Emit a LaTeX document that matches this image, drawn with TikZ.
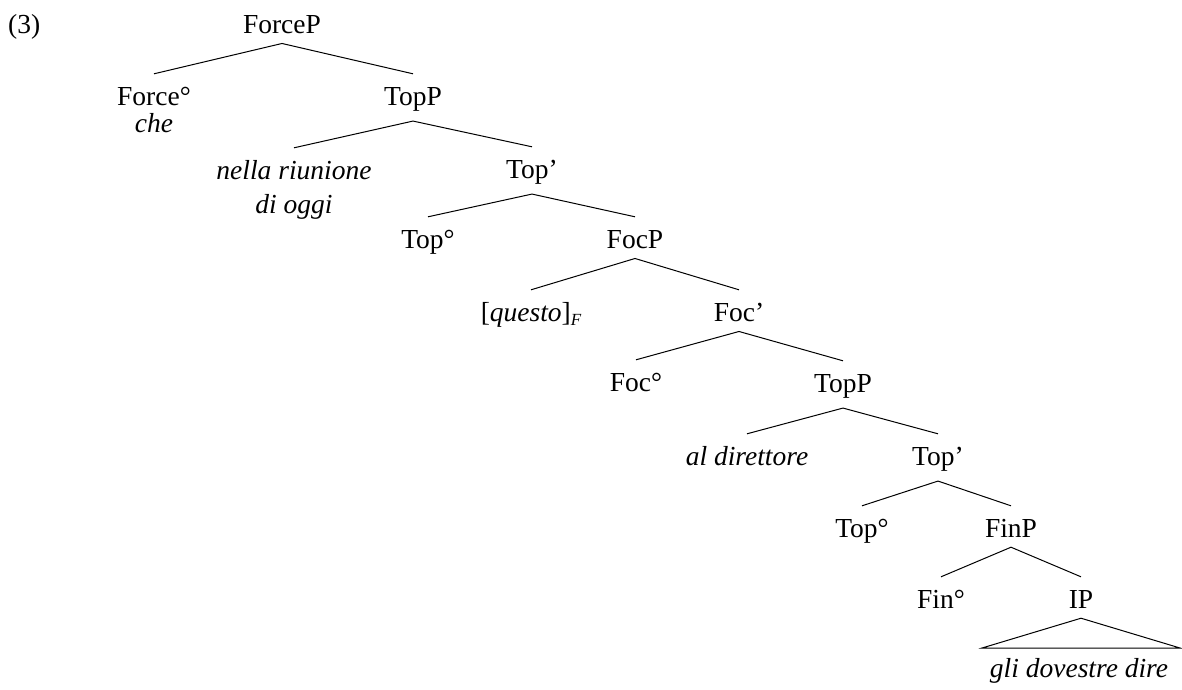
\documentclass[tikz,border=0pt]{standalone}
\usepackage{fontspec}
\setmainfont{Liberation Serif}
\begin{document}
\begin{tikzpicture}[x=1pt,y=-1pt,
  tn/.style={anchor=base, inner xsep=0pt, inner ysep=10pt, text height=21pt},
  br/.style={line width=1pt},
  font=\fontsize{27.5}{33}\selectfont]
\useasboundingbox (0,0) rectangle (1182,689);
\node[anchor=base west, inner sep=0pt] (ex) at (8,33) {(3)};
\node[tn] (ForceP) at (282,33) {ForceP};
\node[tn] (ForceC) at (154,105) {Force°};
\node[tn] (che) at (154,132) {\itshape che};
\node[tn] (TopPa) at (413,105) {TopP};
\node[tn] (nella) at (294,179) {\itshape nella riunione};
\node[tn] (dioggi) at (294,213) {\itshape di oggi};
\node[tn] (Topa) at (532,178) {Top'};
\node[tn] (TopCa) at (428,248) {Top°};
\node[tn] (FocP) at (635,248) {FocP};
\node[tn] (questo) at (531,321) {[\textit{questo}]\raisebox{-0.35ex}{\fontsize{17}{17}\selectfont\itshape F}};
\node[tn] (Focb) at (739,321) {Foc'};
\node[tn] (FocC) at (636,391) {Foc°};
\node[tn] (TopPb) at (843,392) {TopP};
\node[tn] (aldir) at (747,465) {\itshape al direttore};
\node[tn] (Topb) at (938,465) {Top'};
\node[tn] (TopCb) at (862,537) {Top°};
\node[tn] (FinP) at (1011,537) {FinP};
\node[tn] (FinC) at (941,608) {Fin°};
\node[tn] (IP) at (1081,608) {IP};
\node[tn] (gli) at (1079,677) {\itshape gli dovestre dire};
\coordinate (triL) at (982,648);
\coordinate (triR) at (1180,648);
\draw[br] (ForceC.north) -- (ForceP.south) -- (TopPa.north);
\draw[br] (nella.north) -- (TopPa.south) -- (Topa.north);
\draw[br] (TopCa.north) -- (Topa.south) -- (FocP.north);
\draw[br] (questo.north) -- (FocP.south) -- (Focb.north);
\draw[br] (FocC.north) -- (Focb.south) -- (TopPb.north);
\draw[br] (aldir.north) -- (TopPb.south) -- (Topb.north);
\draw[br] (TopCb.north) -- (Topb.south) -- (FinP.north);
\draw[br] (FinC.north) -- (FinP.south) -- (IP.north);
\draw[br] (IP.south) -- (triL) -- (triR) -- cycle;
\end{tikzpicture}
\end{document}
